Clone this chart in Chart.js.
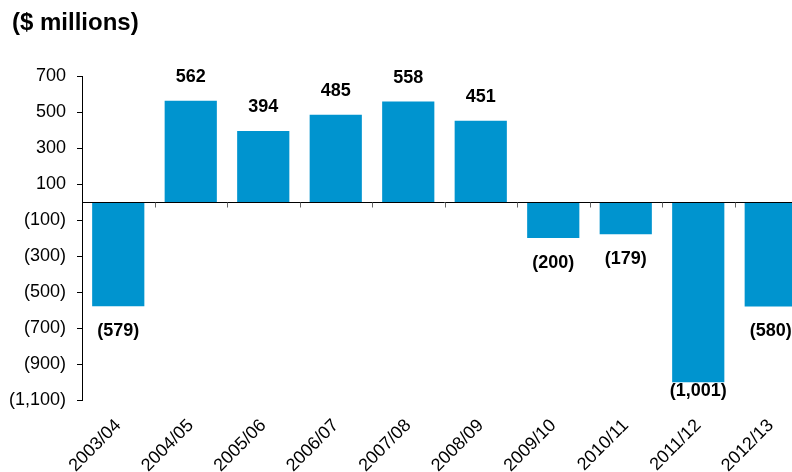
<!DOCTYPE html>
<html>
<head>
<meta charset="utf-8">
<script src="https://cdn.jsdelivr.net/npm/chart.js@4"></script>
<style>
  html, body { margin: 0; padding: 0; overflow: hidden; background: #fff; }
  #wrap { width: 807px; height: 472px; }
</style>
</head>
<body>
<div id="wrap"><canvas id="myChart" width="807" height="472"></canvas></div>
<script>
// data
const years = ["2003/04", "2004/05", "2005/06", "2006/07", "2007/08",
               "2008/09", "2009/10", "2010/11", "2011/12", "2012/13"];
const values = [-579, 562, 394, 485, 558, 451, -200, -179, -1001, -580];
const yTicks = [-1100, -900, -700, -500, -300, -100, 100, 300, 500, 700];
const title = "($ millions)";

const FONT = "'Liberation Sans', Arial, sans-serif";

// negatives shown as (1,001)
function fmt(v) {
  const s = Math.abs(v).toLocaleString("en-US");
  return v < 0 ? "(" + s + ")" : s;
}

const extras = {
  id: "extras",
  afterDatasetsDraw(chart) {
    const ctx = chart.ctx;
    const x = chart.scales.x;
    const y = chart.scales.y;
    const area = chart.chartArea;
    const zero = Math.round(y.getPixelForValue(0)) + 0.5;

    ctx.save();
    // zero line
    ctx.strokeStyle = "#000";
    ctx.lineWidth = 1;
    ctx.beginPath();
    ctx.moveTo(area.left, zero);
    ctx.lineTo(area.right, zero);
    ctx.stroke();

    // small ticks between the categories
    ctx.strokeStyle = "#666";
    for (let i = 1; i < years.length; i++) {
      const bx = Math.round((x.getPixelForTick(i - 1) + x.getPixelForTick(i)) / 2) + 0.5;
      ctx.beginPath();
      ctx.moveTo(bx, zero);
      ctx.lineTo(bx, zero + 5);
      ctx.stroke();
    }

    // value labels
    ctx.fillStyle = "#000";
    ctx.font = "bold 18px " + FONT;
    ctx.textAlign = "center";
    const meta = chart.getDatasetMeta(0);
    meta.data.forEach((bar, i) => {
      const v = values[i];
      if (v >= 0) {
        ctx.textBaseline = "bottom";
        ctx.fillText(fmt(v), bar.x, bar.y - 15);
      } else {
        ctx.textBaseline = "top";
        let ty = bar.y + 16;
        if (ty + 16 > area.bottom) ty = area.bottom - 18;
        ctx.fillText(fmt(v), bar.x, ty);
      }
    });

    // title
    ctx.textAlign = "left";
    ctx.textBaseline = "alphabetic";
    ctx.font = "bold 24px " + FONT;
    ctx.fillText(title, 12, 30);
    ctx.restore();
  }
};

const ctx = document.getElementById("myChart").getContext("2d");
const myChart = new Chart(ctx, {
  type: "bar",
  data: {
    labels: years,
    datasets: [{
      data: values,
      backgroundColor: "#0094cf",
      borderWidth: 0,
      barPercentage: 0.72,
      categoryPercentage: 1.0
    }]
  },
  options: {
    responsive: false,
    animation: false,
    layout: { padding: { top: 76, right: 0, left: 0, bottom: 0 } },
    plugins: {
      legend: { display: false },
      tooltip: { enabled: false },
      title: { display: false }
    },
    scales: {
      x: {
        grid: { display: false },
        border: { display: false },
        ticks: {
          color: "#000",
          font: { family: FONT, size: 18 },
          minRotation: 45,
          maxRotation: 45,
          padding: 7,
          autoSkip: false
        },
        afterFit(scale) { scale.height = 72; }
      },
      y: {
        min: -1100,
        max: 700,
        afterBuildTicks(scale) {
          scale.ticks = yTicks.map(v => ({ value: v }));
        },
        grid: {
          display: true,
          drawOnChartArea: false,
          drawTicks: true,
          tickLength: 5,
          color: "#000"
        },
        border: { display: true, color: "#000", width: 1 },
        ticks: {
          color: "#000",
          font: { family: FONT, size: 18 },
          padding: 11,
          callback: v => fmt(v)
        },
        afterFit(scale) { scale.width = 82; }
      }
    }
  },
  plugins: [extras]
});
</script>
</body>
</html>
